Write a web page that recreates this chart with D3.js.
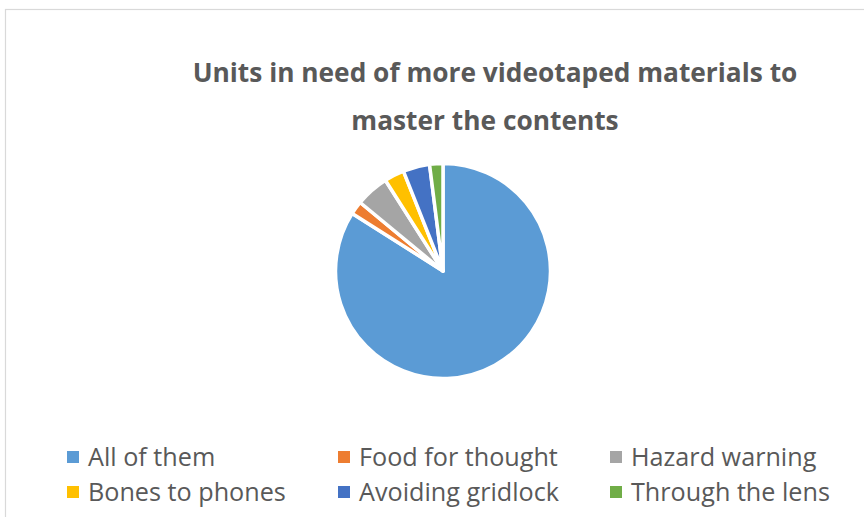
<!DOCTYPE html>
<html>
<head>
<meta charset="utf-8">
<script src="https://cdn.jsdelivr.net/npm/d3@7"></script>
<style>
  body { margin: 0; background: #fff; }
  text { font-family: "Open Sans", Lato, sans-serif; fill: #595959; }
</style>
</head>
<body>
<svg width="864" height="517"></svg>
<script>
const categories = ["All of them", "Food for thought", "Hazard warning", "Bones to phones", "Avoiding gridlock", "Through the lens"];
const values = [84, 2, 5, 3, 4, 2];
const colors = ["#5B9BD5", "#ED7D31", "#A5A5A5", "#FFC000", "#4472C4", "#70AD47"];
const titleLines = ["Units in need of more videotaped materials to", "master the contents"];

const svg = d3.select("svg"),
  width = +svg.attr("width"),
  height = +svg.attr("height");

// chart frame, runs off the right and bottom edge like the screenshot
svg.append("rect").attr("x", 5.5).attr("y", 9.5).attr("width", 900).attr("height", 600)
  .style("fill", "none").style("stroke", "#D9D9D9").style("stroke-width", 1.2)

const titleX = [495, 485];
svg.selectAll(".title")
  .data(titleLines)
  .join("text")
  .attr("class", "title")
  .attr("x", (d, i) => titleX[i])
  .attr("y", (d, i) => 82 + i * 48)
  .attr("text-anchor", "middle")
  .style("font-size", "26.3px")
  .style("font-weight", "bold")
  .text(d => d)

const pie = d3.pie().sort(null).value(d => d.value)
const arc = d3.arc().innerRadius(0).outerRadius(107.5)
const data = categories.map((c, i) => ({ name: c, value: values[i], color: colors[i] }))

svg.append("g")
  .attr("transform", "translate(443,271)")
  .selectAll("path")
  .data(pie(data))
  .join("path")
  .attr("d", arc)
  .style("fill", d => d.data.color)
  .style("stroke", "#fff")
  .style("stroke-width", 3.5)
  .style("stroke-linejoin", "round")

// legend, 3 columns x 2 rows
const colX = [67, 338, 610];
const rowY = [457, 492];
const legend = svg.selectAll(".legend")
  .data(data)
  .join("g")
  .attr("class", "legend")
  .attr("transform", (d, i) => `translate(${colX[i % 3]},${rowY[Math.floor(i / 3)]})`)

legend.append("rect").attr("x", 0).attr("y", -6).attr("width", 12).attr("height", 12)
  .style("fill", d => d.color)
legend.append("text").attr("x", 21).attr("y", 9)
  .style("font-size", "25.2px")
  .text(d => d.name)
</script>
</body>
</html>
